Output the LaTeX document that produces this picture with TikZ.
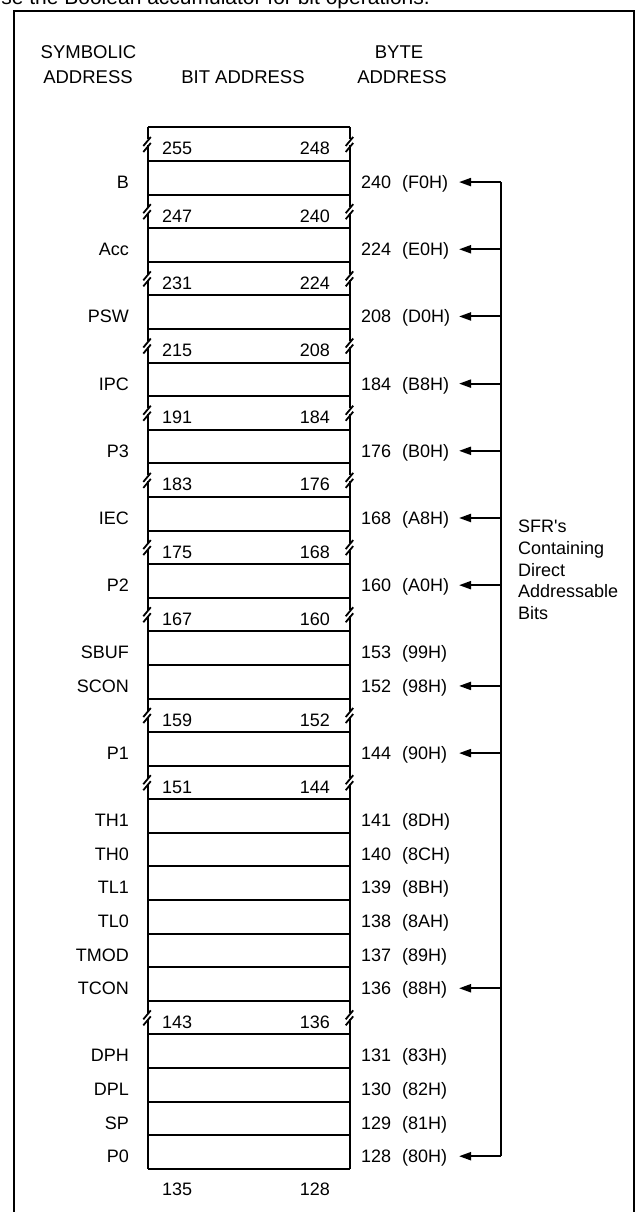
\documentclass[tikz,border=0pt]{standalone}
\usepackage{fontspec}
\setmainfont{Liberation Sans}
\usetikzlibrary{arrows.meta}
\tikzset{
  lbl/.style={font=\fontsize{18}{21.7}\selectfont, inner sep=0pt},
  hline/.style={line width=2pt},
  vedge/.style={line width=1.6pt},
  brk/.style={line width=1.8pt},
  conn/.style={line width=2pt, -{Triangle[length=12pt,width=8pt]}},
  rowcell/.style={minimum width=202pt, minimum height=33.59pt, inner sep=0pt, draw=none},
}
\begin{document}
\begin{tikzpicture}[x=1pt,y=-1pt]
\useasboundingbox (0,0) rectangle (638,1212);
% outer frame
\draw[line width=2pt] (13.5,1240) -- (13.5,11) -- (634,11) -- (634,1240);
% cut-off caption at the top
\node[lbl, font=\fontsize{21}{25}\selectfont, anchor=base west] (cap) at (-14,5) {Use the Boolean accumulator for bit operations.};
% headers
\node[lbl, font=\fontsize{18.5}{22}\selectfont] (hs1) at (88.5,52) {SYMBOLIC};
\node[lbl, font=\fontsize{18.5}{22}\selectfont] (hs2) at (88,77.5) {ADDRESS};
\node[lbl, font=\fontsize{18.5}{22}\selectfont] (hb) at (243,77.5) {BIT ADDRESS};
\node[lbl, font=\fontsize{18.5}{22}\selectfont] (hy1) at (399,52) {BYTE};
\node[lbl, font=\fontsize{18.5}{22}\selectfont] (hy2) at (402,77.5) {ADDRESS};
% row cells
\foreach \i in {1,...,31}{
  \pgfmathsetmacro\yc{127.7+(\i-0.5)*33.59}
  \node[rowcell] (r\i) at (249,\yc) {};
  \draw[hline] (r\i.north west) -- (r\i.north east);
}
\draw[hline] (r31.south west) -- (r31.south east);
% plain rows: full side edges
\foreach \i in {2,4,6,8,10,12,14,16,17,19,21,22,23,24,25,26,28,29,30,31}{
  \draw[vedge] (r\i.north west) -- (r\i.south west);
  \draw[vedge] (r\i.north east) -- (r\i.south east);
}
% break rows: broken side edges and bit numbers
\foreach \i/\l/\r in {1/255/248,3/247/240,5/231/224,7/215/208,9/191/184,11/183/176,13/175/168,15/167/160,18/159/152,20/151/144,27/143/136}{
  \pgfmathsetmacro\yc{127.7+(\i-0.5)*33.59}
  \foreach \s in {west,east}{
    \draw[vedge] (r\i.north \s) -- ([yshift=5pt]r\i.\s);
    \draw[vedge] ([yshift=-1pt]r\i.\s) -- (r\i.south \s);
    \draw[brk] ([shift={(-4.5pt,-1.5pt)}]r\i.\s) -- ([shift={(3pt,7.5pt)}]r\i.\s);
    \draw[brk] ([shift={(-4.5pt,-7.5pt)}]r\i.\s) -- ([shift={(3pt,1.5pt)}]r\i.\s);
  }
  \node[lbl, anchor=base west] (bl\i) at (162,{\yc+10.5}) {\l};
  \node[lbl, anchor=base east] (br\i) at (330,{\yc+10.5}) {\r};
}
% symbolic and byte addresses
\foreach \i/\n/\d/\h in {2/B/240/F0H,4/Acc/224/E0H,6/PSW/208/D0H,8/IPC/184/B8H,10/P3/176/B0H,12/IEC/168/A8H,14/P2/160/A0H,16/SBUF/153/99H,17/SCON/152/98H,19/P1/144/90H,21/TH1/141/8DH,22/TH0/140/8CH,23/TL1/139/8BH,24/TL0/138/8AH,25/TMOD/137/89H,26/TCON/136/88H,28/DPH/131/83H,29/DPL/130/82H,30/SP/129/81H,31/P0/128/80H}{
  \pgfmathsetmacro\yc{127.7+(\i-0.5)*33.59}
  \node[lbl, anchor=base east] (sym\i) at (129,{\yc+10.5}) {\n};
  \node[lbl, anchor=base west] (dec\i) at (361,{\yc+10.5}) {\d};
  \node[lbl, anchor=base west] (hex\i) at (402,{\yc+10.5}) {(\h)};
  \coordinate (tip\i) at (459,{\yc+4});
  \coordinate (bus\i) at (501,{\yc+4});
}
% bus and arrows
\draw[hline] (bus2) -- (bus31);
\foreach \i in {2,4,6,8,10,12,14,17,19,26,31}{
  \draw[conn] (bus\i) -- (tip\i);
}
% SFR note
\node[lbl, anchor=north west, align=left] (note) at (518,520) {SFR\textquotesingle s\\Containing\\Direct\\Addressable\\Bits};
% bottom bit numbers
\node[lbl, anchor=base west] (b135) at (162,1195.5) {135};
\node[lbl, anchor=base east] (b128) at (330,1195.5) {128};
\end{tikzpicture}
\end{document}
